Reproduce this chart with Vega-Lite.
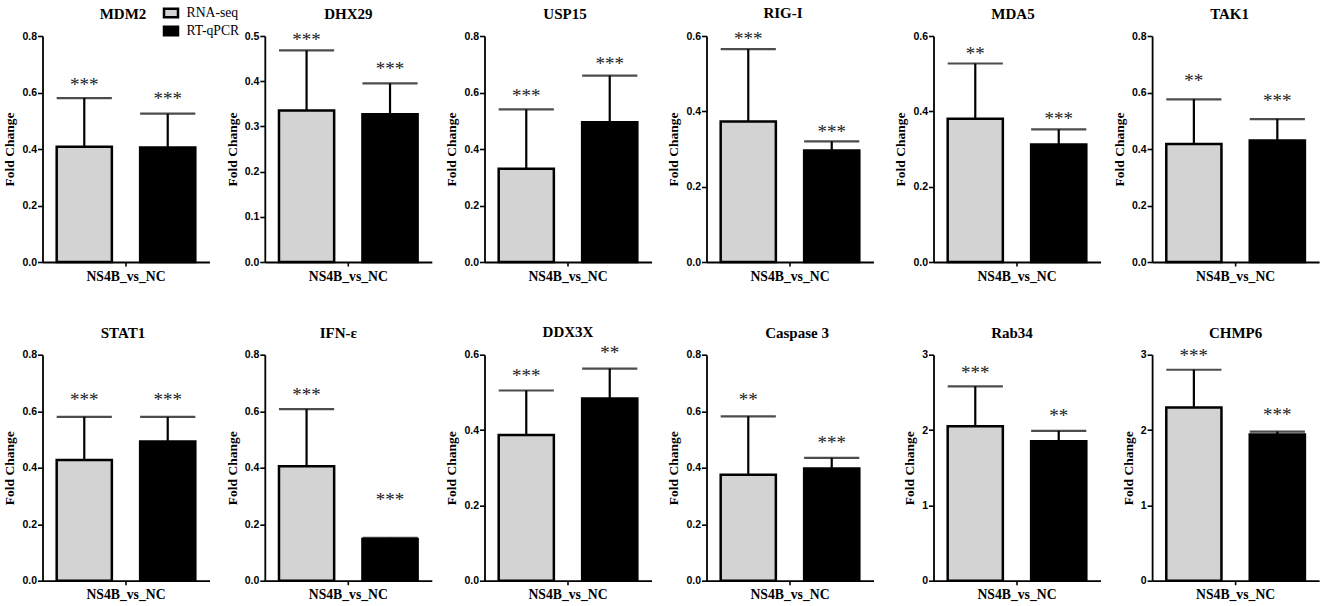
{
  "$schema": "https://vega.github.io/schema/vega-lite/v6.json",
  "padding": {"left": 2.5, "top": 4, "right": 0, "bottom": 0},
  "background": "white",
  "data": {"values": [
    {"gene": "MDM2", "group": "NS4B_vs_NC", "series": "RNA-seq", "mean": 0.408, "upper": 0.58, "sig": "***", "sig_at": 0.634},
    {"gene": "MDM2", "group": "NS4B_vs_NC", "series": "RT-qPCR", "mean": 0.405, "upper": 0.525, "sig": "***", "sig_at": 0.584},
    {"gene": "DHX29", "group": "NS4B_vs_NC", "series": "RNA-seq", "mean": 0.335, "upper": 0.468, "sig": "***", "sig_at": 0.496},
    {"gene": "DHX29", "group": "NS4B_vs_NC", "series": "RT-qPCR", "mean": 0.327, "upper": 0.395, "sig": "***", "sig_at": 0.432},
    {"gene": "USP15", "group": "NS4B_vs_NC", "series": "RNA-seq", "mean": 0.33, "upper": 0.54, "sig": "***", "sig_at": 0.595},
    {"gene": "USP15", "group": "NS4B_vs_NC", "series": "RT-qPCR", "mean": 0.495, "upper": 0.66, "sig": "***", "sig_at": 0.708},
    {"gene": "RIG-I", "group": "NS4B_vs_NC", "series": "RNA-seq", "mean": 0.373, "upper": 0.565, "sig": "***", "sig_at": 0.597},
    {"gene": "RIG-I", "group": "NS4B_vs_NC", "series": "RT-qPCR", "mean": 0.296, "upper": 0.32, "sig": "***", "sig_at": 0.35},
    {"gene": "MDA5", "group": "NS4B_vs_NC", "series": "RNA-seq", "mean": 0.38, "upper": 0.527, "sig": "**", "sig_at": 0.558},
    {"gene": "MDA5", "group": "NS4B_vs_NC", "series": "RT-qPCR", "mean": 0.312, "upper": 0.352, "sig": "***", "sig_at": 0.385},
    {"gene": "TAK1", "group": "NS4B_vs_NC", "series": "RNA-seq", "mean": 0.418, "upper": 0.576, "sig": "**", "sig_at": 0.648},
    {"gene": "TAK1", "group": "NS4B_vs_NC", "series": "RT-qPCR", "mean": 0.43, "upper": 0.506, "sig": "***", "sig_at": 0.577},
    {"gene": "STAT1", "group": "NS4B_vs_NC", "series": "RNA-seq", "mean": 0.427, "upper": 0.58, "sig": "***", "sig_at": 0.648},
    {"gene": "STAT1", "group": "NS4B_vs_NC", "series": "RT-qPCR", "mean": 0.493, "upper": 0.58, "sig": "***", "sig_at": 0.645},
    {"gene": "IFN-ε", "group": "NS4B_vs_NC", "series": "RNA-seq", "mean": 0.405, "upper": 0.607, "sig": "***", "sig_at": 0.666},
    {"gene": "IFN-ε", "group": "NS4B_vs_NC", "series": "RT-qPCR", "mean": 0.148, "upper": 0.152, "sig": "***", "sig_at": 0.294},
    {"gene": "DDX3X", "group": "NS4B_vs_NC", "series": "RNA-seq", "mean": 0.387, "upper": 0.505, "sig": "***", "sig_at": 0.55},
    {"gene": "DDX3X", "group": "NS4B_vs_NC", "series": "RT-qPCR", "mean": 0.484, "upper": 0.563, "sig": "**", "sig_at": 0.61},
    {"gene": "Caspase 3", "group": "NS4B_vs_NC", "series": "RNA-seq", "mean": 0.375, "upper": 0.582, "sig": "**", "sig_at": 0.648},
    {"gene": "Caspase 3", "group": "NS4B_vs_NC", "series": "RT-qPCR", "mean": 0.397, "upper": 0.435, "sig": "***", "sig_at": 0.495},
    {"gene": "Rab34", "group": "NS4B_vs_NC", "series": "RNA-seq", "mean": 2.05, "upper": 2.58, "sig": "***", "sig_at": 2.78},
    {"gene": "Rab34", "group": "NS4B_vs_NC", "series": "RT-qPCR", "mean": 1.85, "upper": 1.99, "sig": "**", "sig_at": 2.21},
    {"gene": "CHMP6", "group": "NS4B_vs_NC", "series": "RNA-seq", "mean": 2.3, "upper": 2.8, "sig": "***", "sig_at": 3.01},
    {"gene": "CHMP6", "group": "NS4B_vs_NC", "series": "RT-qPCR", "mean": 1.94, "upper": 1.98, "sig": "***", "sig_at": 2.23}
  ]},
  "config": {
    "view": {"stroke": null},
    "font": "Liberation Serif",
    "title": {"font": "Liberation Serif", "fontWeight": "bold", "fontSize": 15, "offset": 9, "anchor": "middle", "color": "#000"},
    "axis": {"grid": false, "domainColor": "#000", "tickColor": "#000", "domainWidth": 1.8, "tickWidth": 1.6},
    "axisY": {"labelFont": "Liberation Sans", "labelFontWeight": "bold", "labelFontSize": 10.5, "labelColor": "#000", "tickSize": 5, "labelPadding": 1, "titleFont": "Liberation Serif", "titleFontWeight": "bold", "titleFontSize": 13.5, "titleColor": "#000", "titlePadding": 5},
    "axisX": {"labelFont": "Liberation Serif", "labelFontWeight": "bold", "labelFontSize": 13.7, "labelColor": "#000", "labelAngle": 0, "tickSize": 4, "labelPadding": 3},
    "bar": {"stroke": "#000", "strokeWidth": 2.5},
    "rule": {"stroke": "#000", "strokeWidth": 2.2},
    "tick": {"color": "#000", "thickness": 2.2, "bandSize": 27},
    "text": {"font": "Liberation Serif", "fontSize": 19, "color": "#222", "baseline": "middle", "dy": 2},
    "legend": {"orient": "none", "legendX": 120, "legendY": -31.5, "title": null, "labelFont": "Liberation Serif", "labelFontSize": 13.7, "labelColor": "#000", "symbolType": "M-1,-0.6H1V0.6H-1Z", "symbolSize": 196, "symbolStrokeWidth": 2, "symbolStrokeColor": "#000", "rowPadding": -4, "labelOffset": 7}
  },
  "vconcat": [
    {"hconcat": [
      {"title": {"text": "MDM2", "dx": -3}, "width": 167, "height": 226, "transform": [{"filter": "datum.gene === 'MDM2'"}],
       "encoding": {"x": {"field": "group", "type": "nominal", "title": null, "scale": {"paddingInner": 0, "paddingOuter": 0}}, "xOffset": {"field": "series", "scale": {"paddingInner": 0.339, "paddingOuter": 0.17}}},
       "layer": [
         {"mark": "bar", "encoding": {"y": {"field": "mean", "type": "quantitative", "title": "Fold Change", "scale": {"domain": [0, 0.8]}, "axis": {"values": [0, 0.2, 0.4, 0.6, 0.8], "format": ".1f"}}, "fill": {"field": "series", "type": "nominal", "scale": {"domain": ["RNA-seq", "RT-qPCR"], "range": ["#d3d3d3", "#000000"]}}}},
         {"mark": "rule", "encoding": {"y": {"field": "mean", "type": "quantitative"}, "y2": {"field": "upper"}}},
         {"mark": "tick", "encoding": {"y": {"field": "upper", "type": "quantitative"}}},
         {"mark": "text", "encoding": {"y": {"field": "sig_at", "type": "quantitative"}, "text": {"field": "sig"}}}
       ]},
      {"bounds": "flush", "spacing": 52.7, "hconcat": [
        {"title": "DHX29", "width": 167, "height": 226, "transform": [{"filter": "datum.gene === 'DHX29'"}],
         "encoding": {"x": {"field": "group", "type": "nominal", "title": null, "scale": {"paddingInner": 0, "paddingOuter": 0}}, "xOffset": {"field": "series", "scale": {"paddingInner": 0.339, "paddingOuter": 0.17}}},
         "layer": [
           {"mark": "bar", "encoding": {"y": {"field": "mean", "type": "quantitative", "title": "Fold Change", "scale": {"domain": [0, 0.5]}, "axis": {"values": [0, 0.1, 0.2, 0.3, 0.4, 0.5], "format": ".1f"}}, "fill": {"field": "series", "type": "nominal"}}},
           {"mark": "rule", "encoding": {"y": {"field": "mean", "type": "quantitative"}, "y2": {"field": "upper"}}},
           {"mark": "tick", "encoding": {"y": {"field": "upper", "type": "quantitative"}}},
           {"mark": "text", "encoding": {"y": {"field": "sig_at", "type": "quantitative"}, "text": {"field": "sig"}}}
         ]},
        {"bounds": "flush", "spacing": 55, "hconcat": [
          {"title": {"text": "USP15", "dx": -3}, "width": 167, "height": 226, "transform": [{"filter": "datum.gene === 'USP15'"}],
           "encoding": {"x": {"field": "group", "type": "nominal", "title": null, "scale": {"paddingInner": 0, "paddingOuter": 0}}, "xOffset": {"field": "series", "scale": {"paddingInner": 0.339, "paddingOuter": 0.17}}},
           "layer": [
             {"mark": "bar", "encoding": {"y": {"field": "mean", "type": "quantitative", "title": "Fold Change", "scale": {"domain": [0, 0.8]}, "axis": {"values": [0, 0.2, 0.4, 0.6, 0.8], "format": ".1f"}}, "fill": {"field": "series", "type": "nominal"}}},
             {"mark": "rule", "encoding": {"y": {"field": "mean", "type": "quantitative"}, "y2": {"field": "upper"}}},
             {"mark": "tick", "encoding": {"y": {"field": "upper", "type": "quantitative"}}},
             {"mark": "text", "encoding": {"y": {"field": "sig_at", "type": "quantitative"}, "text": {"field": "sig"}}}
           ]},
          {"bounds": "flush", "spacing": 60, "hconcat": [
            {"title": {"text": "RIG-I", "dx": -7}, "width": 167, "height": 226, "transform": [{"filter": "datum.gene === 'RIG-I'"}],
             "encoding": {"x": {"field": "group", "type": "nominal", "title": null, "scale": {"paddingInner": 0, "paddingOuter": 0}}, "xOffset": {"field": "series", "scale": {"paddingInner": 0.339, "paddingOuter": 0.17}}},
             "layer": [
               {"mark": "bar", "encoding": {"y": {"field": "mean", "type": "quantitative", "title": "Fold Change", "scale": {"domain": [0, 0.6]}, "axis": {"values": [0, 0.2, 0.4, 0.6], "format": ".1f"}}, "fill": {"field": "series", "type": "nominal"}}},
               {"mark": "rule", "encoding": {"y": {"field": "mean", "type": "quantitative"}, "y2": {"field": "upper"}}},
               {"mark": "tick", "encoding": {"y": {"field": "upper", "type": "quantitative"}}},
               {"mark": "text", "encoding": {"y": {"field": "sig_at", "type": "quantitative"}, "text": {"field": "sig"}}}
             ]},
            {"bounds": "flush", "spacing": 51.6, "hconcat": [
              {"title": {"text": "MDA5", "dx": -4}, "width": 167, "height": 226, "transform": [{"filter": "datum.gene === 'MDA5'"}],
               "encoding": {"x": {"field": "group", "type": "nominal", "title": null, "scale": {"paddingInner": 0, "paddingOuter": 0}}, "xOffset": {"field": "series", "scale": {"paddingInner": 0.339, "paddingOuter": 0.17}}},
               "layer": [
                 {"mark": "bar", "encoding": {"y": {"field": "mean", "type": "quantitative", "title": "Fold Change", "scale": {"domain": [0, 0.6]}, "axis": {"values": [0, 0.2, 0.4, 0.6], "format": ".1f"}}, "fill": {"field": "series", "type": "nominal"}}},
                 {"mark": "rule", "encoding": {"y": {"field": "mean", "type": "quantitative"}, "y2": {"field": "upper"}}},
                 {"mark": "tick", "encoding": {"y": {"field": "upper", "type": "quantitative"}}},
                 {"mark": "text", "encoding": {"y": {"field": "sig_at", "type": "quantitative"}, "text": {"field": "sig"}}}
               ]},
              {"title": {"text": "TAK1", "dx": -6}, "width": 167, "height": 226, "transform": [{"filter": "datum.gene === 'TAK1'"}],
               "encoding": {"x": {"field": "group", "type": "nominal", "title": null, "scale": {"paddingInner": 0, "paddingOuter": 0}}, "xOffset": {"field": "series", "scale": {"paddingInner": 0.339, "paddingOuter": 0.17}}},
               "layer": [
                 {"mark": "bar", "encoding": {"y": {"field": "mean", "type": "quantitative", "title": "Fold Change", "scale": {"domain": [0, 0.8]}, "axis": {"values": [0, 0.2, 0.4, 0.6, 0.8], "format": ".1f"}}, "fill": {"field": "series", "type": "nominal"}}},
                 {"mark": "rule", "encoding": {"y": {"field": "mean", "type": "quantitative"}, "y2": {"field": "upper"}}},
                 {"mark": "tick", "encoding": {"y": {"field": "upper", "type": "quantitative"}}},
                 {"mark": "text", "encoding": {"y": {"field": "sig_at", "type": "quantitative"}, "text": {"field": "sig"}}}
               ]}
            ]}
          ]}
        ]}
      ]}
    ], "bounds": "flush", "spacing": 55.3},
    {"hconcat": [
      {"title": {"text": "STAT1", "offset": 9, "dx": -3}, "width": 167, "height": 226, "transform": [{"filter": "datum.gene === 'STAT1'"}],
       "encoding": {"x": {"field": "group", "type": "nominal", "title": null, "scale": {"paddingInner": 0, "paddingOuter": 0}}, "xOffset": {"field": "series", "scale": {"paddingInner": 0.339, "paddingOuter": 0.17}}},
       "layer": [
         {"mark": "bar", "encoding": {"y": {"field": "mean", "type": "quantitative", "title": "Fold Change", "scale": {"domain": [0, 0.8]}, "axis": {"values": [0, 0.2, 0.4, 0.6, 0.8], "format": ".1f"}}, "fill": {"field": "series", "type": "nominal"}}},
         {"mark": "rule", "encoding": {"y": {"field": "mean", "type": "quantitative"}, "y2": {"field": "upper"}}},
         {"mark": "tick", "encoding": {"y": {"field": "upper", "type": "quantitative"}}},
         {"mark": "text", "encoding": {"y": {"field": "sig_at", "type": "quantitative"}, "text": {"field": "sig"}}}
       ]},
      {"bounds": "flush", "spacing": 52.7, "hconcat": [
        {"title": {"text": "IFN-ε", "offset": 9, "dx": -10}, "width": 167, "height": 226, "transform": [{"filter": "datum.gene === 'IFN-ε'"}],
         "encoding": {"x": {"field": "group", "type": "nominal", "title": null, "scale": {"paddingInner": 0, "paddingOuter": 0}}, "xOffset": {"field": "series", "scale": {"paddingInner": 0.339, "paddingOuter": 0.17}}},
         "layer": [
           {"mark": "bar", "encoding": {"y": {"field": "mean", "type": "quantitative", "title": "Fold Change", "scale": {"domain": [0, 0.8]}, "axis": {"values": [0, 0.2, 0.4, 0.6, 0.8], "format": ".1f"}}, "fill": {"field": "series", "type": "nominal"}}},
           {"mark": "rule", "encoding": {"y": {"field": "mean", "type": "quantitative"}, "y2": {"field": "upper"}}},
           {"mark": "tick", "encoding": {"y": {"field": "upper", "type": "quantitative"}}},
           {"mark": "text", "encoding": {"y": {"field": "sig_at", "type": "quantitative"}, "text": {"field": "sig"}}}
         ]},
        {"bounds": "flush", "spacing": 55, "hconcat": [
          {"title": {"text": "DDX3X", "offset": 3.7}, "width": 167, "height": 226, "transform": [{"filter": "datum.gene === 'DDX3X'"}],
           "encoding": {"x": {"field": "group", "type": "nominal", "title": null, "scale": {"paddingInner": 0, "paddingOuter": 0}}, "xOffset": {"field": "series", "scale": {"paddingInner": 0.339, "paddingOuter": 0.17}}},
           "layer": [
             {"mark": "bar", "encoding": {"y": {"field": "mean", "type": "quantitative", "title": "Fold Change", "scale": {"domain": [0, 0.6]}, "axis": {"values": [0, 0.2, 0.4, 0.6], "format": ".1f"}}, "fill": {"field": "series", "type": "nominal"}}},
             {"mark": "rule", "encoding": {"y": {"field": "mean", "type": "quantitative"}, "y2": {"field": "upper"}}},
             {"mark": "tick", "encoding": {"y": {"field": "upper", "type": "quantitative"}}},
             {"mark": "text", "encoding": {"y": {"field": "sig_at", "type": "quantitative"}, "text": {"field": "sig"}}}
           ]},
          {"bounds": "flush", "spacing": 60, "hconcat": [
            {"title": {"text": "Caspase 3", "offset": 9, "dx": 7}, "width": 167, "height": 226, "transform": [{"filter": "datum.gene === 'Caspase 3'"}],
             "encoding": {"x": {"field": "group", "type": "nominal", "title": null, "scale": {"paddingInner": 0, "paddingOuter": 0}}, "xOffset": {"field": "series", "scale": {"paddingInner": 0.339, "paddingOuter": 0.17}}},
             "layer": [
               {"mark": "bar", "encoding": {"y": {"field": "mean", "type": "quantitative", "title": "Fold Change", "scale": {"domain": [0, 0.8]}, "axis": {"values": [0, 0.2, 0.4, 0.6, 0.8], "format": ".1f"}}, "fill": {"field": "series", "type": "nominal"}}},
               {"mark": "rule", "encoding": {"y": {"field": "mean", "type": "quantitative"}, "y2": {"field": "upper"}}},
               {"mark": "tick", "encoding": {"y": {"field": "upper", "type": "quantitative"}}},
               {"mark": "text", "encoding": {"y": {"field": "sig_at", "type": "quantitative"}, "text": {"field": "sig"}}}
             ]},
            {"bounds": "flush", "spacing": 51.6, "hconcat": [
              {"title": {"text": "Rab34", "offset": 9, "dx": -5}, "width": 167, "height": 226, "transform": [{"filter": "datum.gene === 'Rab34'"}],
               "encoding": {"x": {"field": "group", "type": "nominal", "title": null, "scale": {"paddingInner": 0, "paddingOuter": 0}}, "xOffset": {"field": "series", "scale": {"paddingInner": 0.339, "paddingOuter": 0.17}}},
               "layer": [
                 {"mark": "bar", "encoding": {"y": {"field": "mean", "type": "quantitative", "title": "Fold Change", "scale": {"domain": [0, 3]}, "axis": {"values": [0, 1, 2, 3], "format": "d"}}, "fill": {"field": "series", "type": "nominal"}}},
                 {"mark": "rule", "encoding": {"y": {"field": "mean", "type": "quantitative"}, "y2": {"field": "upper"}}},
                 {"mark": "tick", "encoding": {"y": {"field": "upper", "type": "quantitative"}}},
                 {"mark": "text", "encoding": {"y": {"field": "sig_at", "type": "quantitative"}, "text": {"field": "sig"}}}
               ]},
              {"title": {"text": "CHMP6", "offset": 6}, "width": 167, "height": 226, "transform": [{"filter": "datum.gene === 'CHMP6'"}],
               "encoding": {"x": {"field": "group", "type": "nominal", "title": null, "scale": {"paddingInner": 0, "paddingOuter": 0}}, "xOffset": {"field": "series", "scale": {"paddingInner": 0.339, "paddingOuter": 0.17}}},
               "layer": [
                 {"mark": "bar", "encoding": {"y": {"field": "mean", "type": "quantitative", "title": "Fold Change", "scale": {"domain": [0, 3]}, "axis": {"values": [0, 1, 2, 3], "format": "d"}}, "fill": {"field": "series", "type": "nominal"}}},
                 {"mark": "rule", "encoding": {"y": {"field": "mean", "type": "quantitative"}, "y2": {"field": "upper"}}},
                 {"mark": "tick", "encoding": {"y": {"field": "upper", "type": "quantitative"}}},
                 {"mark": "text", "encoding": {"y": {"field": "sig_at", "type": "quantitative"}, "text": {"field": "sig"}}}
               ]}
            ]}
          ]}
        ]}
      ]}
    ], "bounds": "flush", "spacing": 55.3}
  ],
  "spacing": 41.7
}
